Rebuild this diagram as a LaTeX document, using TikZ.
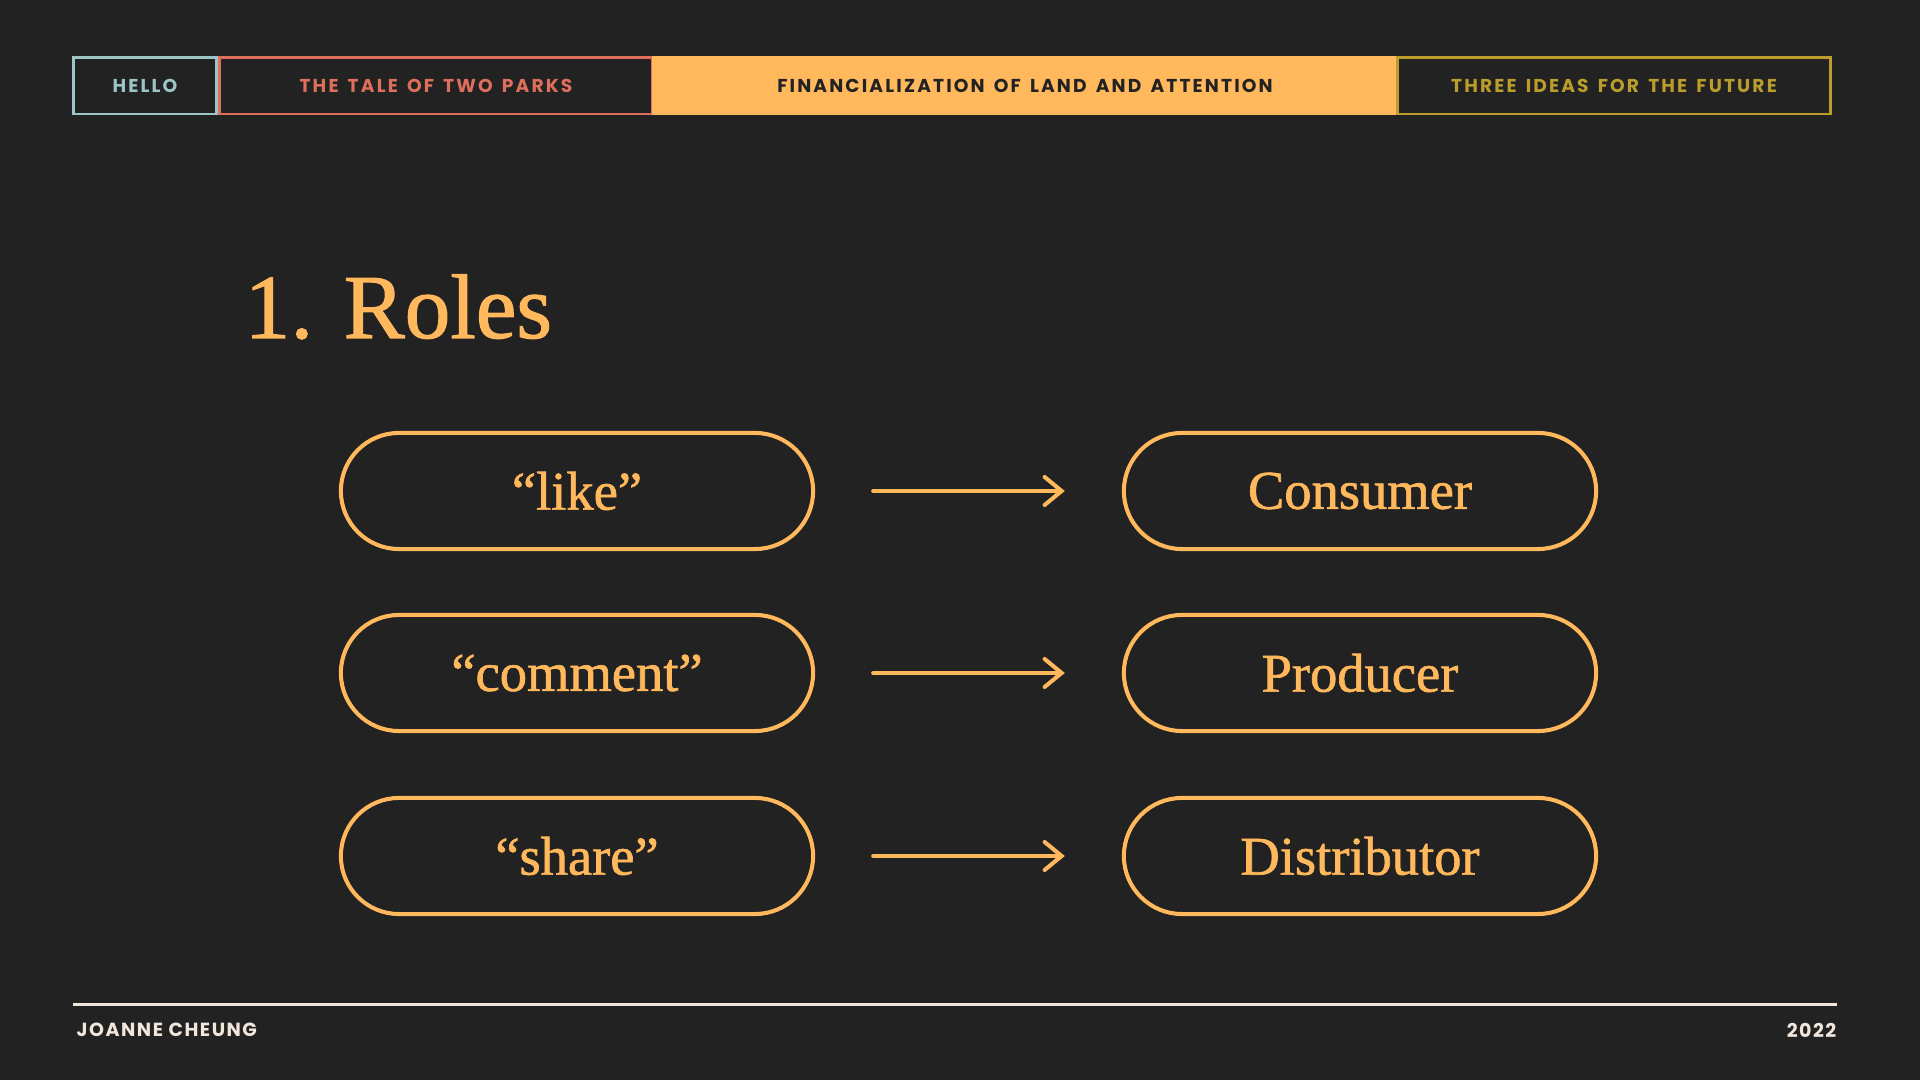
\documentclass[tikz,border=0pt]{standalone}
\usepackage{fontspec}
\setmainfont{Liberation Serif}
\newfontfamily\capsfont[LetterSpace=11.5,WordSpace=1.5]{Poppins}
\newfontfamily\footfont[LetterSpace=8]{Poppins}
\newfontfamily\headfont[FakeBold=1.2]{Liberation Serif}
\usetikzlibrary{arrows.meta}
\definecolor{slate}{HTML}{222222}
\definecolor{apricot}{HTML}{FFB85C}
\definecolor{sage}{HTML}{9CC5C6}
\definecolor{salmon}{HTML}{DE6F5C}
\definecolor{ochre}{HTML}{BA9D2B}
\definecolor{cream}{HTML}{F1E6DC}
\begin{document}
\begin{tikzpicture}[x=0.01cm, y=-0.01cm,
  tab/.style={draw, line width=0.85pt, minimum height=0.56cm, inner sep=0pt, font=\capsfont\bfseries\fontsize{5.3}{6}\selectfont},
  foot/.style={inner sep=0pt, text=cream, font=\footfont\bfseries\fontsize{5.4}{6}\selectfont},
  pill/.style={draw=apricot, line width=1.15pt, rounded corners=0.58cm, minimum width=4.72cm, minimum height=1.16cm, text=apricot, font=\headfont\fontsize{15.5}{18}\selectfont},
  arr/.style={draw=apricot, line width=1.15pt, line cap=round, -{Straight Barb[length=0.17cm, width=0.28cm, line cap=round]}, shorten <=0.58cm, shorten >=0.57cm}]
\fill[slate] (0,0) rectangle (1920,1080);
% top tabs
\node[tab, draw=sage, text=sage, minimum width=1.42cm] (hello) at (145,86){HELLO};
\node[tab, draw=salmon, text=salmon, minimum width=4.33cm] (parks) at (436,86){THE TALE OF TWO PARKS};
\node[tab, draw=apricot, fill=apricot, text=slate, minimum width=7.43cm] (money) at (1025,86){FINANCIALIZATION OF LAND AND ATTENTION};
\node[tab, draw=ochre, text=ochre, minimum width=4.33cm] (ideas) at (1614,86){THREE IDEAS FOR THE FUTURE};
% title
\node[anchor=base west, inner sep=0pt, text=apricot, font=\headfont\fontsize{26}{30}\selectfont] (title) at (244,338){1. Roles};
% actions and roles
\node[pill] (act0) at (577,491){“like”};
\node[pill] (rol0) at (1360,491){Consumer};
\draw[arr](act0) -- (rol0);
\node[pill] (act1) at (577,673){“comment”};
\node[pill] (rol1) at (1360,673){Producer};
\draw[arr](act1) -- (rol1);
\node[pill] (act2) at (577,856){“share”};
\node[pill] (rol2) at (1360,856){Distributor};
\draw[arr](act2) -- (rol2);
% footer
\draw[cream, line width=0.85pt] (73,1005) -- (1837,1005);
\node[foot, anchor=west] (who) at (76,1030){JOANNE CHEUNG};
\node[foot, anchor=east] (year) at (1837,1030){2022};
\end{tikzpicture}
\end{document}
